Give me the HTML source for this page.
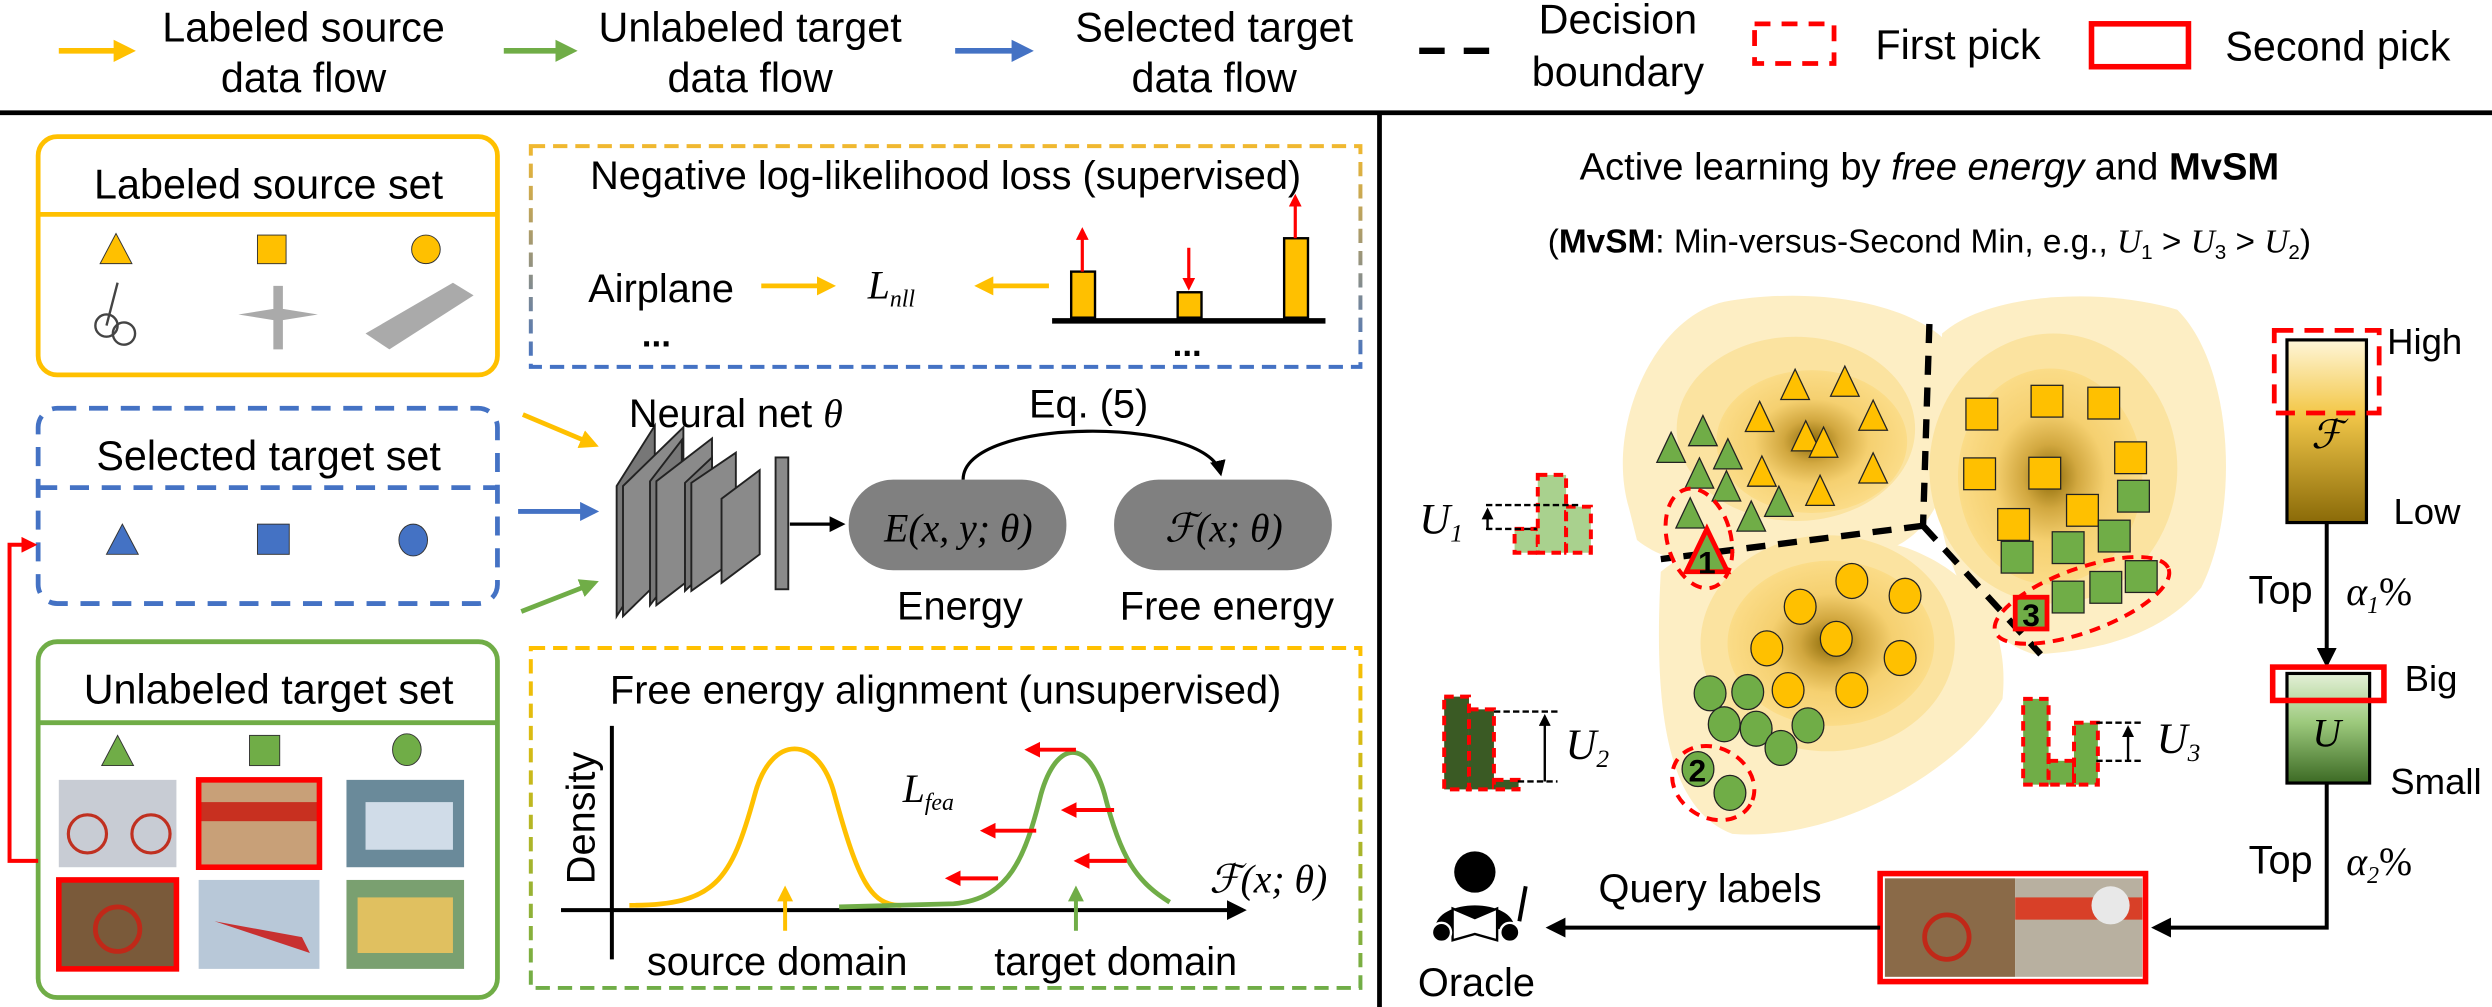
<!DOCTYPE html>
<html><head><meta charset="utf-8"><style>
html,body{margin:0;padding:0;background:#fff;overflow:hidden}
svg{display:block}
text{font-family:"Liberation Sans",sans-serif;fill:#000}
.m{font-family:"Liberation Serif","DejaVu Serif",serif;font-style:italic}
</style></head><body>
<svg width="2492" height="1007" viewBox="0 0 1568 634" preserveAspectRatio="none" xmlns="http://www.w3.org/2000/svg">
<defs>
<marker id="ao" markerWidth="4" markerHeight="4" refX="3" refY="2" orient="auto" markerUnits="strokeWidth"><path d="M0,0 L4,2 L0,4z" fill="#ffc000"/></marker>
<marker id="ag" markerWidth="4" markerHeight="4" refX="3" refY="2" orient="auto" markerUnits="strokeWidth"><path d="M0,0 L4,2 L0,4z" fill="#70ad47"/></marker>
<marker id="ab" markerWidth="4" markerHeight="4" refX="3" refY="2" orient="auto" markerUnits="strokeWidth"><path d="M0,0 L4,2 L0,4z" fill="#4472c4"/></marker>
<marker id="ar" markerWidth="4" markerHeight="4" refX="3" refY="2" orient="auto" markerUnits="strokeWidth"><path d="M0,0 L4,2 L0,4z" fill="#f00"/></marker>
<marker id="ak" markerWidth="5" markerHeight="5" refX="4" refY="2.5" orient="auto" markerUnits="strokeWidth"><path d="M0,0 L5,2.5 L0,5z" fill="#000"/></marker>
<linearGradient id="nllg" x1="0" y1="0" x2="0" y2="1"><stop offset="0" stop-color="#f0b830"/><stop offset="1" stop-color="#4472c4"/></linearGradient>
<linearGradient id="feag" x1="0" y1="0" x2="0" y2="1"><stop offset="0" stop-color="#ffc000"/><stop offset="1" stop-color="#70ad47"/></linearGradient>
<linearGradient id="fb" x1="0" y1="0" x2="0" y2="1"><stop offset="0" stop-color="#fff6d8"/><stop offset="0.4" stop-color="#f3c84a"/><stop offset="1" stop-color="#8a6a08"/></linearGradient>
<linearGradient id="ub" x1="0" y1="0" x2="0" y2="1"><stop offset="0" stop-color="#e4f0d8"/><stop offset="0.45" stop-color="#9cc97c"/><stop offset="1" stop-color="#3c6a24"/></linearGradient>
<radialGradient id="bl"><stop offset="0" stop-color="#8a6806"/><stop offset="0.3" stop-color="#d2a840"/><stop offset="0.6" stop-color="#f5d070"/><stop offset="1" stop-color="#fbdc88"/></radialGradient>
</defs>

<!-- legend -->
<line x1="37" y1="32" x2="82" y2="32" stroke="#ffc000" stroke-width="3.5" marker-end="url(#ao)"/>
<text x="191" y="26" font-size="26" text-anchor="middle">Labeled source</text>
<text x="191" y="58" font-size="26" text-anchor="middle">data flow</text>
<line x1="317" y1="32" x2="360" y2="32" stroke="#70ad47" stroke-width="3.5" marker-end="url(#ag)"/>
<text x="472" y="26" font-size="26" text-anchor="middle">Unlabeled target</text>
<text x="472" y="58" font-size="26" text-anchor="middle">data flow</text>
<line x1="601" y1="32" x2="647" y2="32" stroke="#4472c4" stroke-width="3.5" marker-end="url(#ab)"/>
<text x="764" y="26" font-size="26" text-anchor="middle">Selected target</text>
<text x="764" y="58" font-size="26" text-anchor="middle">data flow</text>
<line x1="893" y1="32" x2="938" y2="32" stroke="#000" stroke-width="4" stroke-dasharray="16,12"/>
<text x="1018" y="21" font-size="26" text-anchor="middle">Decision</text>
<text x="1018" y="54" font-size="26" text-anchor="middle">boundary</text>
<rect x="1104" y="15" width="50" height="25" fill="none" stroke="#f00" stroke-width="3" stroke-dasharray="10,7"/>
<text x="1232" y="37" font-size="26" text-anchor="middle">First pick</text>
<rect x="1316" y="15" width="61" height="27" fill="none" stroke="#f00" stroke-width="3.5"/>
<text x="1471" y="38" font-size="26" text-anchor="middle">Second pick</text>
<line x1="0" y1="71" x2="1568" y2="71" stroke="#000" stroke-width="3"/>
<line x1="868" y1="71" x2="868" y2="634" stroke="#000" stroke-width="3"/>

<!-- Labeled source set -->
<rect x="24" y="86" width="289" height="150" rx="12" fill="none" stroke="#ffc000" stroke-width="3"/>
<line x1="24" y1="135" x2="313" y2="135" stroke="#ffc000" stroke-width="3"/>
<text x="169" y="125" font-size="26" text-anchor="middle">Labeled source set</text>
<polygon points="73,147 63,166 83,166" fill="#ffc000" stroke="#333" stroke-width="0.6"/>
<rect x="162" y="148" width="18" height="18" fill="#ffc000" stroke="#333" stroke-width="0.6"/>
<circle cx="268" cy="157" r="9" fill="#ffc000" stroke="#333" stroke-width="0.6"/>
<g stroke="#444" fill="none" stroke-width="1.5"><circle cx="67" cy="205" r="7"/><circle cx="78" cy="210" r="7"/><line x1="67" y1="205" x2="74" y2="178"/></g>
<path d="M150,198 L175,194 L200,198 L175,202z M172,180 L178,180 L178,220 L172,220z" fill="#aaa"/>
<path d="M230,210 L285,178 L298,186 L245,220z" fill="#aaa"/>

<!-- NLL box -->
<rect x="334" y="92" width="522" height="139" fill="none" stroke="url(#nllg)" stroke-width="2.5" stroke-dasharray="9,5"/>
<text x="595" y="119" font-size="25" text-anchor="middle">Negative log-likelihood loss (supervised)</text>
<text x="416" y="190" font-size="25" text-anchor="middle">Airplane</text>
<line x1="479" y1="180" x2="523" y2="180" stroke="#ffc000" stroke-width="3" marker-end="url(#ao)"/>
<text x="546" y="188" font-size="25" class="m">L<tspan font-size="15" dy="5">nll</tspan></text>
<line x1="660" y1="180" x2="616" y2="180" stroke="#ffc000" stroke-width="3" marker-end="url(#ao)"/>
<text x="413" y="218" font-size="22" font-weight="bold" text-anchor="middle">...</text>
<text x="747" y="224" font-size="22" font-weight="bold" text-anchor="middle">...</text>
<line x1="662" y1="202" x2="834" y2="202" stroke="#000" stroke-width="3.5"/>
<rect x="674" y="171" width="15" height="29" fill="#ffc000" stroke="#000" stroke-width="1.5"/>
<rect x="741" y="184" width="15" height="16" fill="#ffc000" stroke="#000" stroke-width="1.5"/>
<rect x="808" y="150" width="15" height="50" fill="#ffc000" stroke="#000" stroke-width="1.5"/>
<line x1="681" y1="171" x2="681" y2="145" stroke="#f00" stroke-width="2" marker-end="url(#ar)"/>
<line x1="748" y1="156" x2="748" y2="181" stroke="#f00" stroke-width="2" marker-end="url(#ar)"/>
<line x1="815" y1="150" x2="815" y2="124" stroke="#f00" stroke-width="2" marker-end="url(#ar)"/>

<!-- Selected target set -->
<rect x="24" y="257" width="289" height="123" rx="12" fill="none" stroke="#4472c4" stroke-width="3" stroke-dasharray="12,8"/>
<line x1="24" y1="307" x2="313" y2="307" stroke="#4472c4" stroke-width="3" stroke-dasharray="12,8"/>
<text x="169" y="296" font-size="26" text-anchor="middle">Selected target set</text>
<polygon points="77,330 67,349 87,349" fill="#4472c4" stroke="#333" stroke-width="0.6"/>
<rect x="162" y="330" width="20" height="19" fill="#4472c4" stroke="#333" stroke-width="0.6"/>
<ellipse cx="260" cy="340" rx="9" ry="10" fill="#4472c4" stroke="#333" stroke-width="0.6"/>

<!-- Unlabeled target set -->
<rect x="24" y="404" width="289" height="224" rx="12" fill="none" stroke="#70ad47" stroke-width="3"/>
<line x1="24" y1="455" x2="313" y2="455" stroke="#70ad47" stroke-width="3"/>
<text x="169" y="443" font-size="26" text-anchor="middle">Unlabeled target set</text>
<polygon points="74,463 64,482 84,482" fill="#70ad47" stroke="#333" stroke-width="0.6"/>
<rect x="157" y="463" width="19" height="19" fill="#70ad47" stroke="#333" stroke-width="0.6"/>
<ellipse cx="256" cy="472" rx="9" ry="10" fill="#70ad47" stroke="#333" stroke-width="0.6"/>
<rect x="37" y="491" width="74" height="55" fill="#c8ccd4"/>
<g stroke="#c03020" fill="none" stroke-width="2"><circle cx="55" cy="525" r="12"/><circle cx="95" cy="525" r="12"/></g>
<rect x="125" y="491" width="76" height="55" fill="#c8a078"/>
<rect x="125" y="505" width="76" height="12" fill="#c83020"/>
<rect x="218" y="491" width="74" height="55" fill="#6a8a9a"/>
<rect x="230" y="505" width="55" height="30" fill="#d0dce8"/>
<rect x="37" y="554" width="74" height="56" fill="#7a5a3a"/>
<circle cx="74" cy="585" r="14" fill="none" stroke="#c02818" stroke-width="3"/>
<rect x="125" y="554" width="76" height="56" fill="#b8c8d8"/>
<path d="M135,580 L195,600 L190,590z" fill="#c83030"/>
<rect x="218" y="554" width="74" height="56" fill="#7aa070"/>
<rect x="225" y="565" width="60" height="35" fill="#e0c060"/>
<rect x="125" y="491" width="76" height="55" fill="none" stroke="#f00" stroke-width="3.5"/>
<rect x="37" y="554" width="74" height="56" fill="none" stroke="#f00" stroke-width="3.5"/>
<polyline points="24,542 6,542 6,343 21,343" fill="none" stroke="#f00" stroke-width="2.5" marker-end="url(#ar)"/>

<!-- arrows into net -->
<line x1="329" y1="261" x2="374" y2="280" stroke="#ffc000" stroke-width="3" marker-end="url(#ao)"/>
<line x1="326" y1="322" x2="374" y2="322" stroke="#4472c4" stroke-width="3" marker-end="url(#ab)"/>
<line x1="328" y1="385" x2="374" y2="367" stroke="#70ad47" stroke-width="3" marker-end="url(#ag)"/>

<!-- neural net -->
<g stroke="#222" stroke-width="1.2" fill="#8a8a8a">
<polygon points="388,388 388,306 412,268 412,350" fill="#777"/><polygon points="392,388 392,306 430,269 430,351"/>
<polygon points="409,381 409,303 429,277 429,355" fill="#777"/><polygon points="413,381 413,303 448,276 448,354"/>
<polygon points="431,372 431,304 448,288 448,356" fill="#777"/><polygon points="435,372 435,304 463,285 463,352"/>
<polygon points="454,367 454,314 478,296 478,349"/>
<rect x="488" y="288" width="8" height="83"/>
</g>
<text x="463" y="269" font-size="25" text-anchor="middle">Neural net <tspan class="m">θ</tspan></text>
<line x1="497" y1="330" x2="530" y2="330" stroke="#000" stroke-width="2" marker-end="url(#ak)"/>
<rect x="534" y="302" width="137" height="57" rx="28" fill="#808080"/>
<rect x="701" y="302" width="137" height="57" rx="28" fill="#808080"/>
<text x="603" y="341" font-size="25" class="m" text-anchor="middle" fill="#222">E(x, y; θ)</text>
<text x="770" y="341" font-size="25" class="m" text-anchor="middle" fill="#222">ℱ(x; θ)</text>
<path d="M606,302 C606,262 760,262 768,298" fill="none" stroke="#000" stroke-width="2" marker-end="url(#ak)"/>
<text x="685" y="263" font-size="25" text-anchor="middle">Eq. (5)</text>
<text x="604" y="390" font-size="25" text-anchor="middle">Energy</text>
<text x="772" y="390" font-size="25" text-anchor="middle">Free energy</text>

<!-- FEA box -->
<rect x="334" y="408" width="522" height="214" fill="none" stroke="url(#feag)" stroke-width="2.5" stroke-dasharray="9,5"/>
<text x="595" y="443" font-size="25" text-anchor="middle">Free energy alignment (unsupervised)</text>
<line x1="385" y1="457" x2="385" y2="604" stroke="#000" stroke-width="2.5"/>
<line x1="353" y1="573" x2="782" y2="573" stroke="#000" stroke-width="2.5" marker-end="url(#ak)"/>
<text x="0" y="0" font-size="25" text-anchor="middle" transform="translate(374,515) rotate(-90)">Density</text>
<path d="M396,570 C450,570 460,555 475,500 C485,462 515,462 525,500 C540,555 548,570 567,570" fill="none" stroke="#ffc000" stroke-width="3"/>
<path d="M528,571 L600,569 C635,566 645,540 655,500 C665,465 685,465 695,500 C705,540 715,555 736,568" fill="none" stroke="#70ad47" stroke-width="3"/>
<text x="568" y="505" font-size="25" class="m">L<tspan font-size="15" dy="5">fea</tspan></text>
<g stroke="#f00" stroke-width="2.5">
<line x1="677" y1="472" x2="647" y2="472" marker-end="url(#ar)"/>
<line x1="701" y1="510" x2="670" y2="510" marker-end="url(#ar)"/>
<line x1="652" y1="523" x2="619" y2="523" marker-end="url(#ar)"/>
<line x1="628" y1="553" x2="597" y2="553" marker-end="url(#ar)"/>
<line x1="709" y1="542" x2="678" y2="542" marker-end="url(#ar)"/>
</g>
<line x1="494" y1="586" x2="494" y2="560" stroke="#ffc000" stroke-width="2.5" marker-end="url(#ao)"/>
<line x1="677" y1="586" x2="677" y2="560" stroke="#70ad47" stroke-width="2.5" marker-end="url(#ag)"/>
<text x="489" y="614" font-size="25" text-anchor="middle">source domain</text>
<text x="702" y="614" font-size="25" text-anchor="middle">target domain</text>
<text x="798" y="562" font-size="25" class="m" text-anchor="middle">ℱ(x; θ)</text>

<!-- right panel -->
<text x="1214" y="113" font-size="24" text-anchor="middle">Active learning by <tspan font-style="italic">free energy</tspan> and <tspan font-weight="bold">MvSM</tspan></text>
<text x="1214" y="159" font-size="21" text-anchor="middle">(<tspan font-weight="bold">MvSM</tspan>: Min-versus-Second Min, e.g., <tspan class="m">U</tspan><tspan font-size="13" dy="4">1</tspan><tspan dy="-4"> &gt; </tspan><tspan class="m">U</tspan><tspan font-size="13" dy="4">3</tspan><tspan dy="-4"> &gt; </tspan><tspan class="m">U</tspan><tspan font-size="13" dy="4">2</tspan><tspan dy="-4">)</tspan></text>

<!-- blobs -->
<g fill="#fdeec4">
<path d="M1025,320 C1010,270 1040,200 1085,190 C1140,180 1200,190 1225,215 C1240,260 1230,330 1190,345 C1130,360 1060,365 1030,340z"/>
<path d="M1222,210 C1250,185 1320,180 1370,195 C1405,230 1410,320 1385,370 C1360,400 1320,410 1280,412 C1240,400 1220,350 1218,300z"/>
<path d="M1045,360 C1080,330 1150,330 1200,345 C1240,360 1265,390 1260,440 C1230,490 1150,530 1090,525 C1050,510 1040,450 1045,360z"/>
</g>
<g fill="#fbe3a0">
<ellipse cx="1130" cy="270" rx="75" ry="58"/>
<ellipse cx="1292" cy="295" rx="78" ry="85"/>
<ellipse cx="1150" cy="405" rx="80" ry="68"/>
</g>
<ellipse cx="1140" cy="278" rx="60" ry="45" fill="url(#bl)"/>
<ellipse cx="1290" cy="300" rx="58" ry="68" fill="url(#bl)"/>
<ellipse cx="1152" cy="405" rx="65" ry="52" fill="url(#bl)"/>

<g stroke="#000" stroke-width="4" stroke-dasharray="12,8" fill="none">
<line x1="1214" y1="204" x2="1210" y2="331"/>
<line x1="1210" y1="331" x2="1045" y2="352"/>
<line x1="1210" y1="331" x2="1284" y2="412"/>
</g>

<g stroke="#222" stroke-width="0.8" fill="#ffc000">
<polygon points="1129.5,232.5 1120.5,251.5 1138.5,251.5"/><polygon points="1160.8,230.5 1151.8,249.5 1169.8,249.5"/>
<polygon points="1107.2,252.7 1098.2,271.7 1116.2,271.7"/><polygon points="1178.6,251.9 1169.6,270.9 1187.6,270.9"/>
<polygon points="1136.2,264.9 1127.2,283.9 1145.2,283.9"/><polygon points="1147.4,268.9 1138.4,287.9 1156.4,287.9"/>
<polygon points="1108.6,287.1 1099.6,306.1 1117.6,306.1"/><polygon points="1178.6,285.1 1169.6,304.1 1187.6,304.1"/>
<polygon points="1145.2,299.2 1136.2,318.2 1154.2,318.2"/>
</g>
<g stroke="#222" stroke-width="0.8" fill="#70ad47">
<polygon points="1071.5,261.6 1062.5,280.6 1080.5,280.6"/><polygon points="1051.5,272.1 1042.5,291.1 1060.5,291.1"/>
<polygon points="1087.2,276.2 1078.2,295.2 1096.2,295.2"/><polygon points="1069.3,288.3 1060.3,307.3 1078.3,307.3"/>
<polygon points="1086.3,296.4 1077.3,315.4 1095.3,315.4"/><polygon points="1119.3,306.1 1110.3,325.1 1128.3,325.1"/>
<polygon points="1063.5,313.4 1054.5,332.4 1072.5,332.4"/><polygon points="1101.9,315.4 1092.9,334.4 1110.9,334.4"/>
</g>
<polygon points="1074,333 1061,360 1087,360" fill="#70ad47" stroke="#f00" stroke-width="3"/>
<text x="1074" y="361" font-size="20" font-weight="bold" text-anchor="middle">1</text>
<ellipse cx="1069" cy="339" rx="20" ry="32" fill="none" stroke="#f00" stroke-width="2.5" stroke-dasharray="7,5" transform="rotate(-15 1069 339)"/>

<g stroke="#222" stroke-width="0.8" fill="#ffc000">
<rect x="1237" y="250.7" width="20" height="20"/><rect x="1278" y="242.6" width="20" height="20"/>
<rect x="1313.7" y="243.8" width="20" height="20"/><rect x="1235.6" y="288.3" width="20" height="20"/>
<rect x="1276.6" y="287.9" width="20" height="20"/><rect x="1330.6" y="278.2" width="20" height="20"/>
<rect x="1257" y="320.2" width="20" height="20"/><rect x="1300.3" y="311.3" width="20" height="20"/>
</g>
<g stroke="#222" stroke-width="0.8" fill="#70ad47">
<rect x="1332.4" y="302.4" width="20" height="20"/><rect x="1259.2" y="340.8" width="20" height="20"/>
<rect x="1291.3" y="334.8" width="20" height="20"/><rect x="1320.3" y="327.5" width="20" height="20"/>
<rect x="1291.3" y="365.9" width="20" height="20"/><rect x="1315" y="359.8" width="20" height="20"/>
<rect x="1337.3" y="353" width="20" height="20"/>
</g>
<rect x="1268" y="376" width="20" height="20" fill="#70ad47" stroke="#f00" stroke-width="3"/>
<text x="1278" y="394" font-size="20" font-weight="bold" text-anchor="middle">3</text>
<ellipse cx="1310" cy="378" rx="58" ry="20" fill="none" stroke="#f00" stroke-width="2.5" stroke-dasharray="7,5" transform="rotate(-20 1310 378)"/>

<g stroke="#222" stroke-width="0.8" fill="#ffc000">
<ellipse cx="1165.2" cy="365.8" rx="10" ry="11"/><ellipse cx="1198.7" cy="375.1" rx="10" ry="11"/>
<ellipse cx="1132.7" cy="382" rx="10" ry="11"/><ellipse cx="1111.7" cy="408.2" rx="10" ry="11"/>
<ellipse cx="1155.4" cy="402.2" rx="10" ry="11"/><ellipse cx="1195.6" cy="414.3" rx="10" ry="11"/>
<ellipse cx="1125.1" cy="434.5" rx="10" ry="11"/><ellipse cx="1165.2" cy="434.5" rx="10" ry="11"/>
</g>
<g stroke="#222" stroke-width="0.8" fill="#70ad47">
<ellipse cx="1076" cy="436.5" rx="10" ry="11"/><ellipse cx="1099.7" cy="435.7" rx="10" ry="11"/>
<ellipse cx="1084.9" cy="456" rx="10" ry="11"/><ellipse cx="1105" cy="458.8" rx="10" ry="11"/>
<ellipse cx="1137.6" cy="456.7" rx="10" ry="11"/><ellipse cx="1120.6" cy="470.9" rx="10" ry="11"/>
<ellipse cx="1088.5" cy="499.2" rx="10" ry="11"/><ellipse cx="1068.4" cy="484.2" rx="10" ry="11"/>
</g>
<text x="1068" y="492" font-size="20" font-weight="bold" text-anchor="middle">2</text>
<ellipse cx="1078" cy="493" rx="27" ry="22" fill="none" stroke="#f00" stroke-width="2.5" stroke-dasharray="7,5" transform="rotate(30 1078 493)"/>

<!-- histograms -->
<g stroke="#f00" stroke-width="2.5" stroke-dasharray="6,4">
<rect x="953" y="333" width="14.6" height="15" fill="#a9d18e"/><rect x="967.6" y="299" width="17.8" height="49" fill="#a9d18e"/><rect x="985.4" y="319" width="15.6" height="29" fill="#a9d18e"/>
<rect x="908.7" y="438.6" width="15.6" height="58.4" fill="#3a5a24"/><rect x="924.3" y="446.6" width="15.7" height="50.4" fill="#3a5a24"/><rect x="940" y="491" width="15.5" height="6" fill="#3a5a24"/>
<rect x="1273" y="440" width="16" height="54" fill="#70ad47"/><rect x="1289" y="479" width="16" height="15" fill="#70ad47"/><rect x="1305" y="455" width="15" height="39" fill="#70ad47"/>
</g>
<g stroke="#000" stroke-width="1.5" stroke-dasharray="4,2" fill="none">
<line x1="935" y1="318" x2="995" y2="318"/><line x1="935" y1="333" x2="967" y2="333"/>
<line x1="940" y1="448" x2="980" y2="448"/><line x1="955" y1="492" x2="980" y2="492"/>
<line x1="1319" y1="455" x2="1348" y2="455"/><line x1="1319" y1="479" x2="1348" y2="479"/>
</g>
<g stroke="#000" stroke-width="1.5"><line x1="936" y1="333" x2="936" y2="321" marker-end="url(#ak)"/><line x1="972" y1="492" x2="972" y2="451" marker-end="url(#ak)"/><line x1="1339" y1="479" x2="1339" y2="458" marker-end="url(#ak)"/></g>
<text x="893" y="336" font-size="27" class="m">U<tspan font-size="16" dy="5">1</tspan></text>
<text x="985" y="478" font-size="27" class="m">U<tspan font-size="16" dy="5">2</tspan></text>
<text x="1357" y="474" font-size="27" class="m">U<tspan font-size="16" dy="5">3</tspan></text>

<!-- bars F and U -->
<rect x="1439" y="214" width="50" height="115" fill="url(#fb)" stroke="#000" stroke-width="2"/>
<rect x="1431" y="208" width="66" height="52" fill="none" stroke="#f00" stroke-width="3" stroke-dasharray="12,7"/>
<text x="1464" y="282" font-size="25" class="m" text-anchor="middle">ℱ</text>
<text x="1502" y="223" font-size="23">High</text>
<text x="1506" y="330" font-size="23">Low</text>
<line x1="1464" y1="329" x2="1464" y2="418" stroke="#000" stroke-width="2.5" marker-end="url(#ak)"/>
<text x="1435" y="380" font-size="25" text-anchor="middle">Top</text>
<text x="1497" y="381" font-size="25" class="m" text-anchor="middle">α<tspan font-size="15" dy="5">1</tspan><tspan dy="-5" font-style="normal">%</tspan></text>
<rect x="1439" y="424" width="52" height="69" fill="url(#ub)" stroke="#000" stroke-width="2"/>
<rect x="1430" y="420" width="70" height="21" fill="none" stroke="#f00" stroke-width="3.5"/>
<text x="1464" y="470" font-size="25" class="m" text-anchor="middle">U</text>
<text x="1513" y="435" font-size="23">Big</text>
<text x="1504" y="500" font-size="23">Small</text>
<text x="1435" y="550" font-size="25" text-anchor="middle">Top</text>
<text x="1497" y="551" font-size="25" class="m" text-anchor="middle">α<tspan font-size="15" dy="5">2</tspan><tspan dy="-5" font-style="normal">%</tspan></text>
<polyline points="1464,493 1464,584 1356,584" fill="none" stroke="#000" stroke-width="2.5" marker-end="url(#ak)"/>

<!-- query images -->
<rect x="1186" y="553" width="82" height="62" fill="#8a6a48"/>
<circle cx="1225" cy="590" r="14" fill="none" stroke="#c02818" stroke-width="3"/>
<rect x="1268" y="553" width="80" height="62" fill="#b8b0a0"/>
<rect x="1268" y="565" width="80" height="14" fill="#d84028"/>
<circle cx="1328" cy="570" r="12" fill="#e8e8e8"/>
<rect x="1183" y="550" width="167" height="68" fill="none" stroke="#f00" stroke-width="3.5"/>
<line x1="1183" y1="584" x2="975" y2="584" stroke="#000" stroke-width="2.5" marker-end="url(#ak)"/>
<text x="1076" y="568" font-size="25" text-anchor="middle">Query labels</text>

<!-- oracle -->
<circle cx="928" cy="549" r="13" fill="#000"/>
<path d="M903,585 C903,565 953,565 953,585z" fill="#000"/>
<path d="M914,572 L928,578 L942,572 L942,592 L928,588 L914,592z" fill="#fff" stroke="#000" stroke-width="1.5"/>
<circle cx="907" cy="587" r="6" fill="#000" stroke="#fff" stroke-width="1.5"/>
<circle cx="950" cy="587" r="6" fill="#000" stroke="#fff" stroke-width="1.5"/>
<line x1="956" y1="580" x2="960" y2="558" stroke="#000" stroke-width="2.5"/>
<text x="929" y="627" font-size="25" text-anchor="middle">Oracle</text>
</svg>
</body></html>
